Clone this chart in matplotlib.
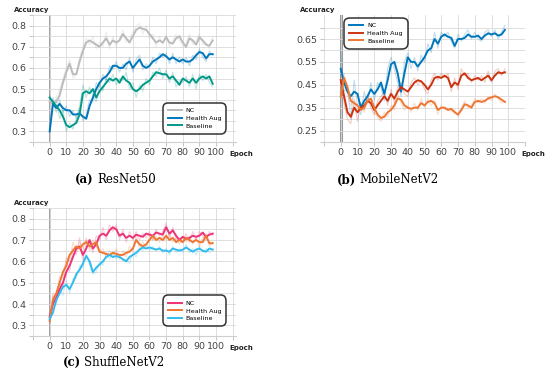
import matplotlib
matplotlib.use("Agg")
import matplotlib.pyplot as plt
import numpy as np

# epochs where values were read (every 2 epochs)
epochs = list(range(0, 100, 2))
labels = ["NC", "Health Aug", "Baseline"]

# (a) ResNet50 - smoothed curves
a_nc = [0.44, 0.43, 0.44, 0.47, 0.53, 0.58, 0.62, 0.57, 0.57, 0.63,
        0.68, 0.72, 0.73, 0.72, 0.71, 0.70, 0.72, 0.74, 0.71, 0.73,
        0.72, 0.73, 0.76, 0.74, 0.72, 0.75, 0.78, 0.79, 0.785, 0.78,
        0.76, 0.74, 0.72, 0.73, 0.72, 0.745, 0.72, 0.715, 0.74, 0.75,
        0.72, 0.70, 0.74, 0.73, 0.71, 0.745, 0.73, 0.71, 0.705, 0.73]
a_ha = [0.30, 0.43, 0.41, 0.43, 0.41, 0.40, 0.40, 0.38, 0.38, 0.385,
        0.37, 0.36, 0.42, 0.46, 0.50, 0.53, 0.55, 0.56, 0.58, 0.61,
        0.61, 0.60, 0.60, 0.62, 0.63, 0.60, 0.62, 0.64, 0.61, 0.60,
        0.61, 0.63, 0.64, 0.65, 0.665, 0.655, 0.64, 0.65, 0.64, 0.63,
        0.64, 0.63, 0.63, 0.64, 0.66, 0.675, 0.67, 0.645, 0.665, 0.665]
a_bl = [0.46, 0.44, 0.42, 0.40, 0.37, 0.33, 0.32, 0.33, 0.34, 0.38,
        0.48, 0.49, 0.48, 0.50, 0.46, 0.49, 0.51, 0.53, 0.55, 0.54,
        0.55, 0.53, 0.56, 0.54, 0.53, 0.50, 0.49, 0.50, 0.52, 0.53,
        0.54, 0.56, 0.58, 0.575, 0.57, 0.57, 0.55, 0.56, 0.54, 0.52,
        0.55, 0.54, 0.53, 0.55, 0.53, 0.55, 0.56, 0.55, 0.56, 0.525]
# (a) raw curves
a_nc_raw = [0.45, 0.42, 0.46, 0.50, 0.55, 0.60, 0.64, 0.55, 0.57, 0.65,
            0.70, 0.74, 0.71, 0.75, 0.69, 0.72, 0.70, 0.77, 0.69, 0.75,
            0.70, 0.74, 0.78, 0.72, 0.74, 0.77, 0.80, 0.81, 0.76, 0.80,
            0.74, 0.76, 0.70, 0.75, 0.71, 0.76, 0.70, 0.73, 0.76, 0.73,
            0.70, 0.72, 0.76, 0.71, 0.73, 0.76, 0.71, 0.72, 0.69, 0.75]
a_ha_raw = [0.30, 0.46, 0.39, 0.45, 0.39, 0.42, 0.37, 0.40, 0.36, 0.41,
            0.35, 0.38, 0.45, 0.44, 0.53, 0.51, 0.57, 0.54, 0.61, 0.59,
            0.63, 0.58, 0.62, 0.59, 0.65, 0.58, 0.64, 0.66, 0.59, 0.62,
            0.60, 0.65, 0.62, 0.67, 0.65, 0.67, 0.62, 0.67, 0.62, 0.65,
            0.62, 0.65, 0.61, 0.66, 0.64, 0.69, 0.65, 0.63, 0.68, 0.66]
a_bl_raw = [0.47, 0.42, 0.45, 0.36, 0.40, 0.30, 0.34, 0.31, 0.36, 0.42,
            0.52, 0.46, 0.51, 0.47, 0.44, 0.52, 0.49, 0.55, 0.53, 0.57,
            0.52, 0.55, 0.54, 0.58, 0.50, 0.53, 0.46, 0.52, 0.49, 0.55,
            0.52, 0.58, 0.56, 0.60, 0.55, 0.59, 0.53, 0.58, 0.51, 0.54,
            0.53, 0.56, 0.51, 0.57, 0.50, 0.57, 0.54, 0.57, 0.53, 0.51]

# (b) MobileNetV2
b_nc = [0.52, 0.46, 0.42, 0.40, 0.42, 0.41, 0.35, 0.38, 0.40, 0.43,
        0.41, 0.43, 0.46, 0.41, 0.47, 0.54, 0.55, 0.50, 0.42, 0.50,
        0.57, 0.55, 0.55, 0.53, 0.55, 0.57, 0.60, 0.61, 0.65, 0.63,
        0.66, 0.67, 0.66, 0.655, 0.62, 0.65, 0.65, 0.655, 0.67, 0.66,
        0.66, 0.665, 0.65, 0.665, 0.675, 0.67, 0.675, 0.665, 0.67, 0.69]
b_ha = [0.47, 0.40, 0.33, 0.31, 0.35, 0.33, 0.35, 0.36, 0.38, 0.37,
        0.34, 0.36, 0.38, 0.40, 0.38, 0.41, 0.39, 0.42, 0.44, 0.43,
        0.42, 0.44, 0.46, 0.47, 0.465, 0.45, 0.43, 0.45, 0.48, 0.485,
        0.48, 0.49, 0.48, 0.44, 0.46, 0.45, 0.49, 0.50, 0.48, 0.47,
        0.475, 0.48, 0.47, 0.48, 0.49, 0.47, 0.49, 0.505, 0.50, 0.505]
b_bl = [0.40, 0.48, 0.44, 0.38, 0.37, 0.36, 0.34, 0.35, 0.38, 0.39,
        0.35, 0.32, 0.305, 0.31, 0.33, 0.34, 0.36, 0.39, 0.385, 0.36,
        0.35, 0.345, 0.35, 0.35, 0.37, 0.36, 0.375, 0.38, 0.37, 0.34,
        0.35, 0.35, 0.34, 0.345, 0.33, 0.32, 0.34, 0.365, 0.36, 0.35,
        0.375, 0.38, 0.375, 0.38, 0.39, 0.395, 0.40, 0.395, 0.385, 0.375]
b_nc_raw = [0.60, 0.42, 0.44, 0.30, 0.47, 0.36, 0.32, 0.42, 0.37, 0.46,
            0.38, 0.46, 0.44, 0.38, 0.52, 0.57, 0.52, 0.46, 0.40, 0.55,
            0.59, 0.52, 0.57, 0.51, 0.58, 0.55, 0.63, 0.59, 0.68, 0.61,
            0.68, 0.66, 0.68, 0.64, 0.61, 0.67, 0.64, 0.67, 0.69, 0.65,
            0.68, 0.65, 0.64, 0.68, 0.69, 0.66, 0.69, 0.65, 0.68, 0.71]
b_ha_raw = [0.49, 0.37, 0.30, 0.28, 0.38, 0.29, 0.37, 0.34, 0.40, 0.35,
            0.32, 0.38, 0.40, 0.42, 0.36, 0.43, 0.37, 0.44, 0.46, 0.41,
            0.40, 0.46, 0.48, 0.45, 0.47, 0.43, 0.41, 0.47, 0.50, 0.47,
            0.50, 0.48, 0.50, 0.42, 0.48, 0.43, 0.52, 0.49, 0.50, 0.46,
            0.49, 0.47, 0.49, 0.46, 0.51, 0.46, 0.51, 0.52, 0.49, 0.52]
b_bl_raw = [0.38, 0.50, 0.41, 0.36, 0.39, 0.33, 0.36, 0.33, 0.40, 0.37,
            0.33, 0.31, 0.29, 0.33, 0.31, 0.36, 0.34, 0.41, 0.37, 0.34,
            0.36, 0.33, 0.37, 0.34, 0.39, 0.35, 0.39, 0.36, 0.38, 0.32,
            0.36, 0.34, 0.35, 0.33, 0.34, 0.31, 0.35, 0.38, 0.35, 0.36,
            0.39, 0.37, 0.39, 0.37, 0.40, 0.38, 0.41, 0.39, 0.37, 0.38]

# (c) ShuffleNetV2
c_nc = [0.34, 0.40, 0.43, 0.47, 0.50, 0.55, 0.58, 0.62, 0.66, 0.67,
        0.63, 0.66, 0.70, 0.66, 0.68, 0.72, 0.73, 0.72, 0.745, 0.76,
        0.75, 0.72, 0.73, 0.71, 0.72, 0.71, 0.725, 0.72, 0.715, 0.73,
        0.725, 0.72, 0.735, 0.73, 0.725, 0.76, 0.73, 0.745, 0.72, 0.70,
        0.715, 0.705, 0.71, 0.72, 0.715, 0.72, 0.735, 0.715, 0.725, 0.73]
c_ha = [0.32, 0.42, 0.45, 0.50, 0.55, 0.58, 0.63, 0.65, 0.67, 0.66,
        0.68, 0.69, 0.67, 0.68, 0.69, 0.645, 0.64, 0.635, 0.63, 0.64,
        0.635, 0.63, 0.63, 0.64, 0.645, 0.66, 0.70, 0.68, 0.67, 0.68,
        0.70, 0.72, 0.70, 0.71, 0.70, 0.72, 0.70, 0.71, 0.69, 0.70,
        0.69, 0.71, 0.70, 0.69, 0.70, 0.69, 0.69, 0.72, 0.685, 0.685]
c_bl = [0.33, 0.36, 0.42, 0.45, 0.48, 0.49, 0.47, 0.50, 0.54, 0.56,
        0.59, 0.625, 0.60, 0.55, 0.57, 0.585, 0.60, 0.62, 0.63, 0.62,
        0.625, 0.62, 0.61, 0.60, 0.62, 0.63, 0.64, 0.655, 0.665, 0.66,
        0.665, 0.66, 0.655, 0.66, 0.65, 0.65, 0.645, 0.66, 0.655, 0.65,
        0.655, 0.665, 0.655, 0.645, 0.655, 0.66, 0.65, 0.645, 0.66, 0.655]
c_nc_raw = [0.33, 0.44, 0.41, 0.50, 0.47, 0.60, 0.55, 0.66, 0.63, 0.71,
            0.60, 0.70, 0.68, 0.64, 0.72, 0.70, 0.76, 0.70, 0.77, 0.74,
            0.77, 0.70, 0.75, 0.69, 0.74, 0.70, 0.74, 0.70, 0.73, 0.71,
            0.74, 0.70, 0.75, 0.72, 0.74, 0.78, 0.71, 0.76, 0.70, 0.71,
            0.69, 0.73, 0.69, 0.74, 0.70, 0.74, 0.72, 0.70, 0.74, 0.72]
c_ha_raw = [0.30, 0.45, 0.43, 0.53, 0.52, 0.62, 0.60, 0.69, 0.65, 0.69,
            0.66, 0.71, 0.65, 0.70, 0.67, 0.64, 0.66, 0.62, 0.65, 0.62,
            0.66, 0.61, 0.65, 0.62, 0.67, 0.65, 0.72, 0.66, 0.69, 0.66,
            0.72, 0.70, 0.72, 0.69, 0.72, 0.70, 0.73, 0.69, 0.71, 0.68,
            0.71, 0.69, 0.72, 0.68, 0.71, 0.67, 0.71, 0.73, 0.67, 0.69]
c_bl_raw = [0.31, 0.38, 0.40, 0.47, 0.44, 0.51, 0.45, 0.52, 0.52, 0.58,
            0.57, 0.64, 0.58, 0.54, 0.55, 0.60, 0.58, 0.64, 0.61, 0.64,
            0.61, 0.63, 0.60, 0.61, 0.59, 0.64, 0.62, 0.66, 0.65, 0.68,
            0.65, 0.67, 0.65, 0.67, 0.64, 0.66, 0.63, 0.67, 0.64, 0.66,
            0.64, 0.68, 0.64, 0.66, 0.63, 0.67, 0.64, 0.66, 0.64, 0.66]

W, H = 550, 387
fig = plt.figure(figsize=(5.5, 3.87), dpi=100)
fig.patch.set_facecolor("white")


def px(x0, y0, x1, y1):
    # pixel box (left, top, right, bottom) -> figure fractions
    return [x0 / W, 1 - y1 / H, (x1 - x0) / W, (y1 - y0) / H]


def panel(box, smooth, raw, colors, ylim, yticks, xlim, leg_anchor, leg_loc, zero_lw):
    ax = fig.add_axes(px(*box))
    for s, r, c, lab in zip(smooth, raw, colors, labels):
        ax.plot(epochs, r, color=c, lw=0.8, alpha=0.25, zorder=2)
    for s, r, c, lab in zip(smooth, raw, colors, labels):
        ax.plot(epochs, s, color=c, lw=1.4, label=lab, zorder=3)
    ax.axvline(0, color="#9a9a9a", lw=zero_lw, zorder=1.5)
    ax.set_xlim(*xlim)
    ax.set_ylim(*ylim)
    ax.set_xticks(range(0, 101, 10))
    ax.set_xticks([-10, 110], minor=True)
    ax.set_yticks(yticks)
    ax.set_yticklabels([f"{v:g}" for v in yticks])
    ax.set_yticks([v + 0.05 for v in yticks[:-1]] + [yticks[0] - 0.05, yticks[-1] + 0.05], minor=True)
    ax.grid(True, which="both", color="#d9d9d9", lw=0.6, zorder=0)
    for side in ["top", "right", "left"]:
        ax.spines[side].set_visible(False)
    ax.spines["bottom"].set_color("#cfcfcf")
    ax.tick_params(axis="both", which="both", labelsize=6.8, colors="#bbbbbb",
                   labelcolor="#444444", length=3, width=0.6, pad=1.5)
    leg = ax.legend(loc=leg_loc, bbox_to_anchor=leg_anchor, fontsize=4.6,
                    frameon=True, fancybox=True, edgecolor="black",
                    handlelength=2.2, labelspacing=0.35, borderpad=0.6,
                    handletextpad=0.6)
    leg.get_frame().set_linewidth(1.1)
    leg.get_frame().set_boxstyle("round", pad=0.2, rounding_size=0.9)
    return ax


panel((33, 15, 236, 142), [a_nc, a_ha, a_bl], [a_nc_raw, a_ha_raw, a_bl_raw],
      ["#BBBBBB", "#0077BB", "#009988"], (0.278, 0.826),
      [0.3, 0.4, 0.5, 0.6, 0.7, 0.8], (-10, 112), (0.962, 0.05), "lower right", 1.3)
panel((324, 15, 525, 142), [b_nc, b_ha, b_bl], [b_nc_raw, b_ha_raw, b_bl_raw],
      ["#0077BB", "#CC3311", "#EE7733"], (0.21, 0.755),
      [0.25, 0.35, 0.45, 0.55, 0.65], (-9, 110), (0.09, 0.995), "upper left", 2.2)
panel((33, 208, 236, 336), [c_nc, c_ha, c_bl], [c_nc_raw, c_ha_raw, c_bl_raw],
      ["#EE3377", "#EE7733", "#33BBEE"], (0.28, 0.827),
      [0.3, 0.4, 0.5, 0.6, 0.7, 0.8], (-10, 112), (0.962, 0.06), "lower right", 1.3)

# axis titles
for x, y in [(14, 10), (300, 10), (14, 203)]:
    fig.text(x / W, 1 - y / H, "Accuracy", fontsize=5, fontweight="bold",
             ha="left", va="center", color="#222222")
for x, y in [(229, 154), (521, 154), (229, 348)]:
    fig.text(x / W, 1 - y / H, "Epoch", fontsize=5, fontweight="bold",
             ha="left", va="center", color="#222222")

# captions
serif = "DejaVu Serif"
for xl, xr, y, tag, name in [(94, 97, 180, "(a)", "ResNet50"),
                             (356, 359, 180, "(b)", "MobileNetV2"),
                             (81, 84, 363, "(c)", "ShuffleNetV2")]:
    fig.text(xl / W, 1 - y / H, tag, fontsize=8.5, fontweight="bold",
             family=serif, ha="right", va="center")
    fig.text(xr / W, 1 - y / H, name, fontsize=8.5, family=serif,
             ha="left", va="center")

fig.savefig("out.png", dpi=100)
